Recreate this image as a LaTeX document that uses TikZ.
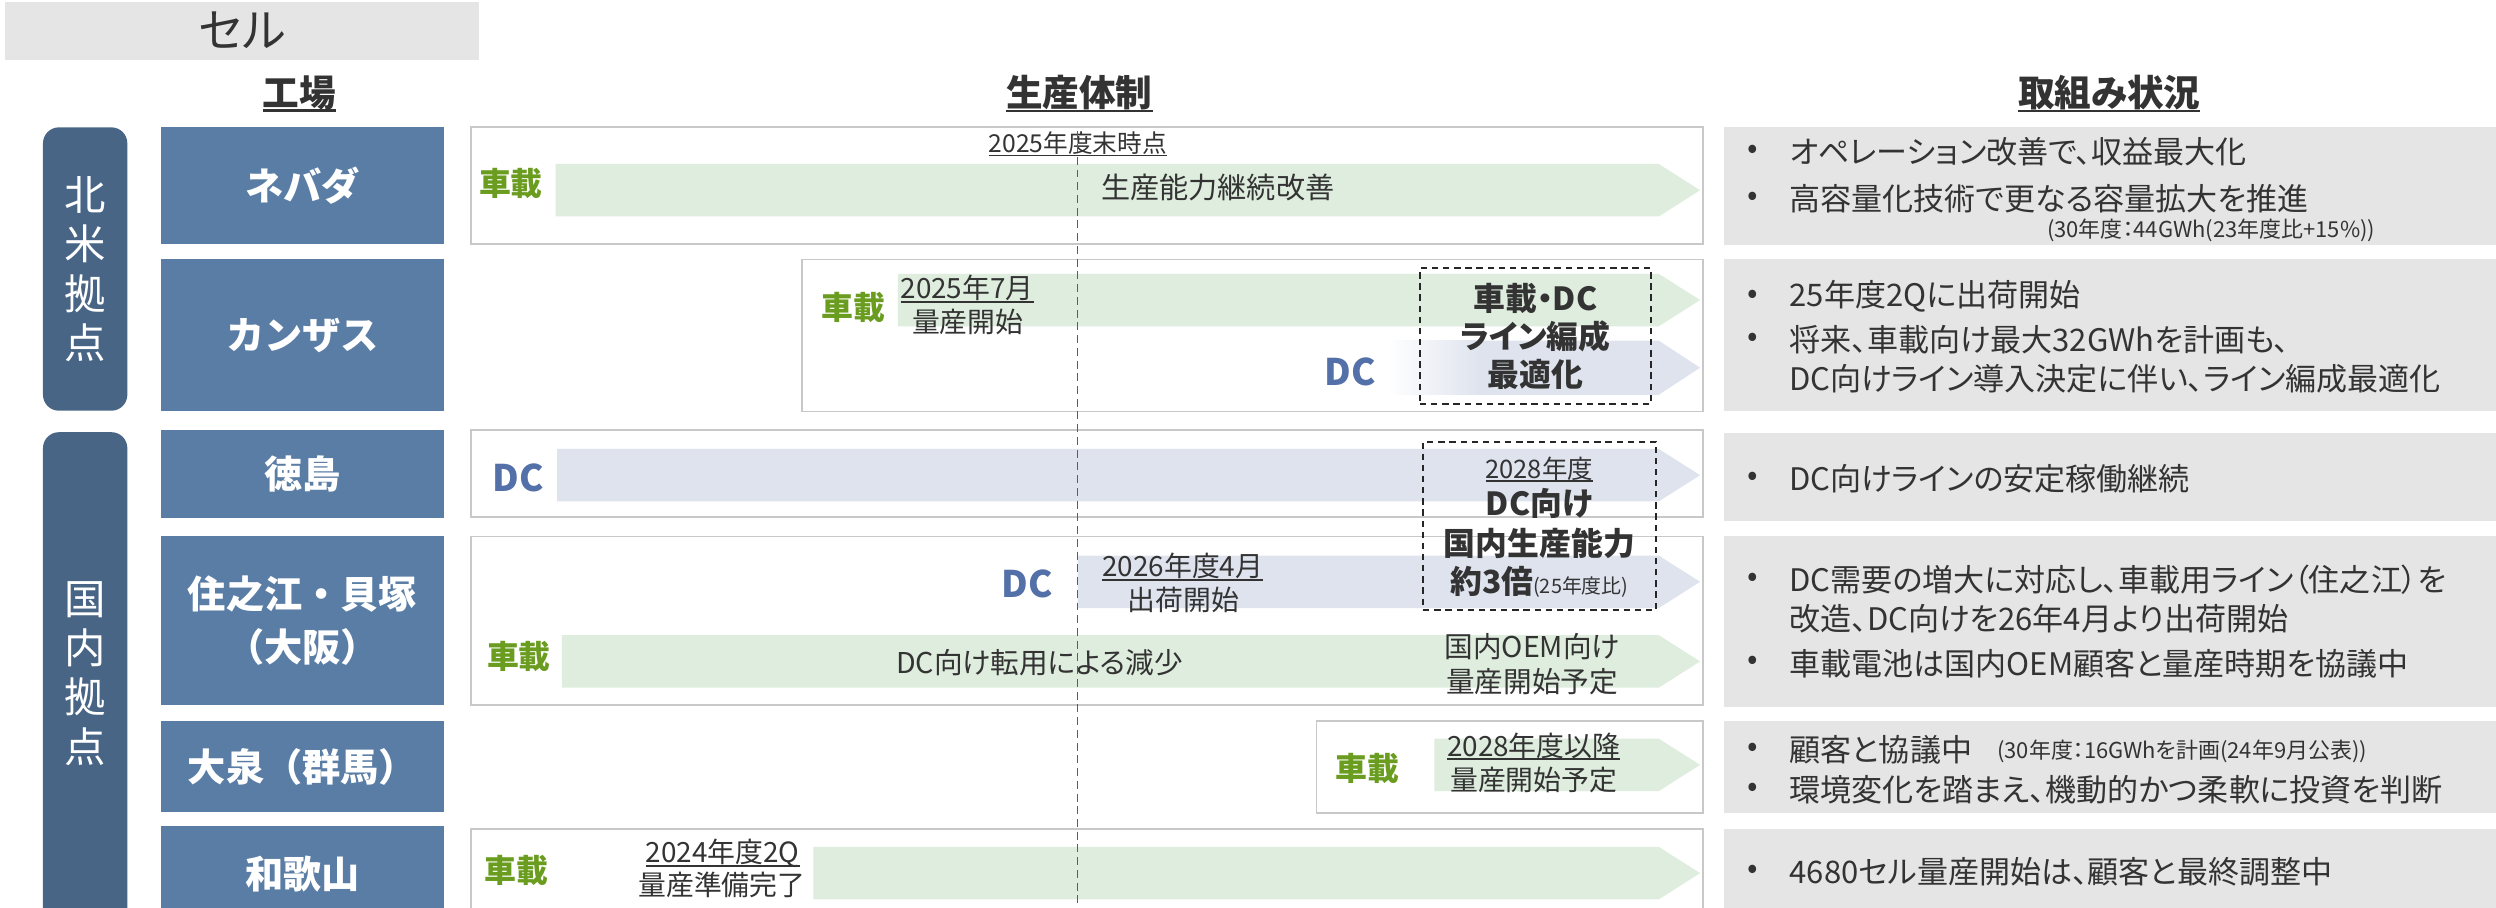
\documentclass[tikz,border=0pt]{standalone}
\usepackage{fontspec}
\setmainfont{Noto Sans CJK JP}[RawFeature=+palt]
\newfontfamily\jpfull{Noto Sans CJK JP}
\definecolor{txt}{HTML}{333333}
\definecolor{rgray}{HTML}{E5E5E5}
\definecolor{pillc}{HTML}{486586}
\definecolor{facc}{HTML}{5A7DA5}
\definecolor{boxline}{HTML}{C8C8C8}
\definecolor{gband}{HTML}{DEEDDE}
\definecolor{dband}{HTML}{DEE3EE}
\definecolor{cargreen}{HTML}{6A9C1F}
\definecolor{dcblue}{HTML}{5470A8}
\definecolor{vline}{HTML}{2A62CC}
\newcommand\fsz[1]{\fontsize{#1}{#1}\selectfont}
\newcommand\ulx[1]{\leavevmode\setbox0\hbox{#1}\rlap{\raisebox{-0.15em}{\rule{\wd0}{0.07em}}}\box0}
\newcommand\rectnode[7]{\node[#2,minimum width={(#5-#3)*1pt},minimum height={(#6-#4)*1pt}] (#1) at ({(#3+#5)/2},{(#4+#6)/2}) {#7};}
% color, x0, x1(tip), ytop, ybot
\newcommand\chev[5]{\fill[#1] (#2,#4) -- ({#3-26},#4) -- (#3,{(#4+#5)/2}) -- ({#3-26},#5) -- (#2,#5) -- cycle;}
\tikzset{
 tx/.style={inner sep=0pt, text=txt},
 hdrbox/.style={fill=rgray, inner sep=0pt, text=txt, font=\fsz{29}},
 pillbox/.style={fill=pillc, rounded corners=10pt, inner sep=0pt, text=white, align=center, font=\jpfull\fontsize{26}{31}\selectfont},
 facbox/.style={fill=facc, inner sep=0pt, text=white, align=center, font=\jpfull\bfseries\fontsize{24}{33.5}\selectfont},
 tlbox/.style={draw=boxline, line width=1.2pt, fill=white, inner sep=0pt},
 rbox/.style={fill=rgray, inner sep=0pt},
 dbox/.style={draw=black!85, dash pattern=on 4pt off 3pt, line width=1.2pt, inner sep=0pt},
 car/.style={tx, text=cargreen, font=\bfseries\fsz{20}},
 dcl/.style={tx, text=dcblue, font=\bfseries\fsz{23}},
 ms/.style={tx, font=\fsz{17.5}},
 bold20/.style={tx, font=\bfseries\fsz{20}},
 rt/.style={tx, anchor=west, font=\fsz{19.5}},
 bul/.style={tx, font=\fsz{19.5}},
 sm/.style={tx, font=\fsz{13.8}},
 hd/.style={tx, font=\bfseries\fsz{23}},
}
\begin{document}
\begin{tikzpicture}[x=1pt,y=-1pt]
\useasboundingbox (0,0) rectangle (1568,570);

% header
\rectnode{hdr}{hdrbox}{3}{1}{301}{37.5}{セル}
\node[hd] (hfac) at (188,59) {\ulx{工場}};
\node[hd] (hprod) at (678,59) {\ulx{生産体制}};
\node[hd] (hstat) at (1325,59) {\ulx{取組み状況}};

% pills
\rectnode{pna}{pillbox}{27}{80}{80}{258}{北\\米\\拠\\点}
\rectnode{pjp}{pillbox}{27}{271.5}{80}{585}{}
\node[tx, text=white, align=center, font=\jpfull\fontsize{26}{31}\selectfont] (pjpt) at (53.5,423) {国\\内\\拠\\点};

% factory boxes
\rectnode{fnev}{facbox}{101}{80}{279}{153}{ネバダ}
\rectnode{fkan}{facbox}{101}{163}{279}{258}{カンザス}
\rectnode{ftok}{facbox}{101}{270}{279}{325.5}{徳島}
\rectnode{fsum}{facbox}{101}{337}{279}{443}{住之江・貝塚\\（大阪）}
\rectnode{foiz}{facbox}{101}{452.7}{279}{510.3}{大泉（群馬）}
\rectnode{fwak}{facbox}{101}{518.7}{279}{580}{和歌山}

% timeline boxes
\rectnode{tnev}{tlbox}{296}{80}{1070}{153}{}
\rectnode{tkan}{tlbox}{504}{163}{1070}{258.5}{}
\rectnode{ttok}{tlbox}{296}{270}{1070}{325}{}
\rectnode{tsum}{tlbox}{296}{337}{1070}{443}{}
\rectnode{toiz}{tlbox}{827}{453}{1070}{511}{}
\rectnode{twak}{tlbox}{296}{521}{1070}{585}{}

% right boxes
\rectnode{rnev}{rbox}{1083}{80}{1570}{154}{}
\rectnode{rkan}{rbox}{1083}{163}{1570}{258.5}{}
\rectnode{rtok}{rbox}{1083}{272}{1570}{327}{}
\rectnode{rsum}{rbox}{1083}{337}{1570}{444}{}
\rectnode{roiz}{rbox}{1083}{453}{1570}{511}{}
\rectnode{rwak}{rbox}{1083}{521}{1570}{585}{}

% bands
\chev{gband}{349}{1068}{103}{136}
\chev{gband}{564}{1068}{172}{205}
\shade[left color=white, right color=dband] (872,214) rectangle (930,248);
\chev{dband}{929}{1068}{214}{248}
\chev{dband}{350}{1068}{282}{315}
\chev{dband}{677}{1068}{349}{382}
\chev{gband}{353}{1068}{399}{432}
\chev{gband}{901}{1068}{464}{497}
\chev{gband}{511}{1068}{532}{565}

% dashed boxes
\rectnode{dkan}{dbox}{892}{168.5}{1037}{254}{}
\rectnode{dtok}{dbox}{894}{277.5}{1040.5}{383}{}

% Nevada row
\node[car] (cnev) at (321,115.5) {車載};
\node[tx, font=\fsz{15.5}] (m2025) at (677,90.5) {\ulx{2025年度末時点}};
\node[tx, font=\fsz{18.3}] (mnev) at (765,117.5) {生産能力継続改善};

% Kansas row
\node[car] (ckan) at (536,193) {車載};
\node[ms] (mkan1) at (607.5,181.5) {\ulx{2025年7月}};
\node[ms] (mkan2) at (608,202.5) {量産開始};
\node[dcl] (dkanl) at (848,233.5) {DC};
\node[bold20] (kopt1) at (964.5,187.5) {車載・DC};
\node[bold20] (kopt2) at (964.5,211.5) {ライン編成};
\node[bold20] (kopt3) at (964.5,235.5) {最適化};

% Tokushima row
\node[dcl] (dtokl) at (325.6,300.5) {DC};
\node[tx, font=\fsz{16}] (t28) at (967,294.8) {\ulx{2028年度}};
\node[bold20] (t28b) at (967,316.5) {DC向け};
\node[bold20] (t28c) at (967,341.3) {国内生産能力};
\node[bold20] (t28d) at (967,365.4) {約3倍{\fsz{12.5}\mdseries(25年度比)}};

% Suminoe row
\node[dcl] (dsuml) at (645.5,366.5) {DC};
\node[ms] (msum1) at (743,356) {\ulx{2026年度4月}};
\node[ms] (msum2) at (743.5,377) {出荷開始};
\node[car] (csum) at (326,412.5) {車載};
\node[tx, font=\fsz{18}] (msum3) at (653,416.3) {DC向け転用による減少};
\node[tx, font=\fsz{18}] (msum4) at (962.5,406.3) {国内OEM向け};
\node[tx, font=\fsz{18}] (msum5) at (962.5,428.2) {量産開始予定};

% Oizumi row
\node[car] (coiz) at (859,483) {車載};
\node[ms] (moiz1) at (963.5,469) {\ulx{2028年度以降}};
\node[ms] (moiz2) at (963.5,490) {量産開始予定};

% Wakayama row
\node[car] (cwak) at (324.6,546.6) {車載};
\node[ms] (mwak1) at (454,536) {\ulx{2024年度2Q}};
\node[ms] (mwak2) at (453.5,556) {量産準備完了};

% right column
\foreach \yy [count=\i] in {95.3,124.6,186.4,213.6,300.5,364,416.7,471.2,496.3,547.6}
  \node[bul] (b\i) at (1101,\yy) {•};
\node[rt] (r1) at (1124,95.3) {オペレーション改善で、収益最大化};
\node[rt] (r2) at (1124,124.6) {高容量化技術で更なる容量拡大を推進};
\node[sm] (r2s) at (1389,144.5) {(30年度：44GWh(23年度比+15\%))};
\node[rt] (r3) at (1124,186.4) {25年度2Qに出荷開始};
\node[rt] (r4) at (1124,213.6) {将来、車載向け最大32GWhを計画も、};
\node[rt] (r4b) at (1124,237.7) {DC向けライン導入決定に伴い、ライン編成最適化};
\node[rt] (r5) at (1124,300.5) {DC向けラインの安定稼働継続};
\node[rt] (r6) at (1124,364) {DC需要の増大に対応し、車載用ライン（住之江）を};
\node[rt] (r6b) at (1124,388.5) {改造、DC向けを26年4月より出荷開始};
\node[rt] (r7) at (1124,416.7) {車載電池は国内OEM顧客と量産時期を協議中};
\node[rt] (r8) at (1124,471.2) {顧客と協議中};
\node[sm, anchor=west] (r8s) at (1254.5,472) {(30年度：16GWhを計画(24年9月公表))};
\node[rt] (r9) at (1124,496.3) {環境変化を踏まえ、機動的かつ柔軟に投資を判断};
\node[rt] (r10) at (1124,547.6) {4680セル量産開始は、顧客と最終調整中};

% vertical dashed line
\coordinate (vtop) at (677,82.5);
\coordinate (vbot) at (677,572);
\draw[vline, line width=1pt, dash pattern=on 5pt off 3pt] (vtop) -- (vbot);
\end{tikzpicture}
\end{document}
